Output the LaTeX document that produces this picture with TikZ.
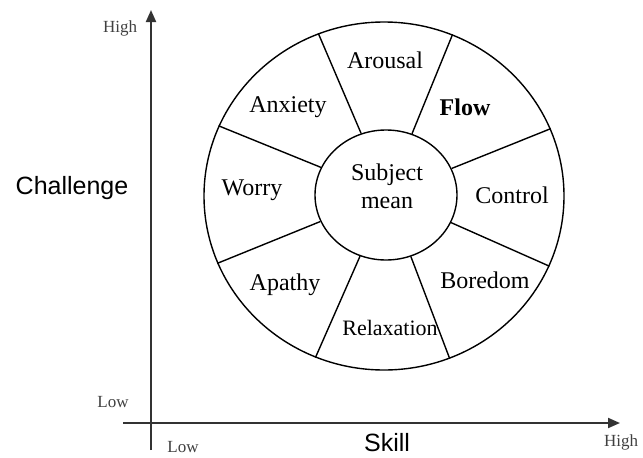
\documentclass[tikz,border=0pt]{standalone}
\usepackage{fontspec}
\setmainfont{Liberation Serif}
\setsansfont{Liberation Sans}
\usetikzlibrary{positioning, arrows.meta, shapes.geometric}

\begin{document}
\begin{tikzpicture}[x=0.5pt, y=0.5pt,
		state/.style={font=\fontsize{12}{14}\selectfont},
		level/.style={font=\fontsize{8.5}{10}\selectfont, text=black!75},
		axislabel/.style={font=\sffamily\fontsize{12.5}{15}\selectfont},
		wheel/.style={draw, ellipse, line width=0.7pt, inner sep=0pt},
		axis/.style={line width=1pt, draw=black!80, -{Triangle[length=6pt, width=5pt]}}]
		\useasboundingbox (0,0) rectangle (643,457);

		% Wheel
		\node (ring) [wheel, minimum width=180pt, minimum height=174pt] at (384,261) {};
		\node (mean) [wheel, minimum width=71pt, minimum height=65pt] at (386,262) {};
		\node (meantext) [state, align=center] at (387,271) {Subject\\mean};
		\foreach \a in {22.5,67.5,...,337.5}
			\draw[line width=0.7pt] (mean.\a) -- (ring.\a);

		% States
		\node (arousal) [state] at (385,397) {Arousal};
		\node (flow) [state, font=\fontsize{12}{14}\selectfont\bfseries] at (465,350) {Flow};
		\node (control) [state] at (512,262) {Control};
		\node (boredom) [state] at (485,177) {Boredom};
		\node (relax) [state, font=\fontsize{11}{13}\selectfont] at (390,129) {Relaxation};
		\node (apathy) [state] at (285,172) {Apathy};
		\node (worry) [state] at (252,267) {Worry};
		\node (anxiety) [state] at (288,350) {Anxiety};

		% Axes
		\coordinate (ybot) at (151,7);
		\coordinate (ytop) at (151,447);
		\coordinate (xleft) at (123,34);
		\coordinate (xright) at (620,34);
		\draw[axis] (ybot) -- (ytop);
		\draw[axis] (xleft) -- (xright);

		\node (challenge) [axislabel] at (72,269) {Challenge};
		\node (skill) [axislabel] at (387,14) {Skill};
		\node (yhigh) [level] at (120,429) {High};
		\node (ylow) [level] at (113,55) {Low};
		\node (xlow) [level] at (183,10) {Low};
		\node (xhigh) [level] at (621,15) {High};

	\end{tikzpicture}
\end{document}
